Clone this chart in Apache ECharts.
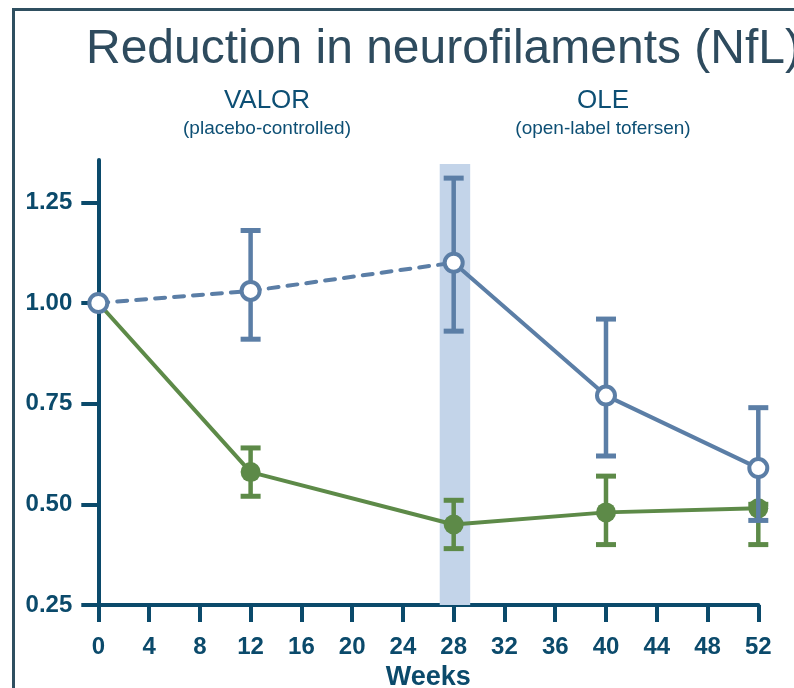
<!DOCTYPE html>
<html>
<head>
<meta charset="utf-8">
<script src="https://cdn.jsdelivr.net/npm/echarts@6/dist/echarts.min.js"></script>
<style>html,body{margin:0;padding:0;background:#fff;}#c{width:794px;height:688px;}</style>
</head>
<body>
<div id="c"></div>
<script>
// ---- data ----
var weeks = [0, 12, 28, 40, 52];
var blueMean = [1.00, 1.03, 1.10, 0.77, 0.59];
var blueLow  = [null, 0.91, 0.93, 0.62, 0.46];
var blueHigh = [null, 1.18, 1.31, 0.96, 0.74];
var greenMean = [1.00, 0.58, 0.45, 0.48, 0.49];
var greenLow  = [null, 0.52, 0.39, 0.40, 0.40];
var greenHigh = [null, 0.64, 0.51, 0.57, 0.50];
var xTicks = [0, 4, 8, 12, 16, 20, 24, 28, 32, 36, 40, 44, 48, 52];
var yTicks = [0.25, 0.50, 0.75, 1.00, 1.25];
var bandWeeks = [26.9, 29.3];
var titleText = 'Reduction in neurofilaments (NfL)';
var phase1 = ['VALOR', '(placebo-controlled)'];
var phase2 = ['OLE', '(open-label tofersen)'];
var xName = 'Weeks';

var AX = '#0b4a6b';
var BLUE = '#5b7ea6';
var GREEN = '#5d8a48';

function pairs(xs, ys, from, to) {
  var out = [];
  for (var i = 0; i < xs.length; i++) {
    if (xs[i] >= from && xs[i] <= to) out.push([xs[i], ys[i]]);
  }
  return out;
}
function errData(xs, lo, hi) {
  var out = [];
  for (var i = 0; i < xs.length; i++) if (lo[i] != null) out.push([xs[i], lo[i], hi[i]]);
  return out;
}
function errRender(color) {
  return function (params, api) {
    var x = api.value(0), lo = api.value(1), hi = api.value(2);
    var a = api.coord([x, lo]), b = api.coord([x, hi]);
    var hw = 10;
    var st = { stroke: color, lineWidth: 4.5 };
    return { type: 'group', children: [
      { type: 'line', shape: { x1: a[0], y1: a[1], x2: b[0], y2: b[1] }, style: st },
      { type: 'line', shape: { x1: a[0] - hw, y1: a[1], x2: a[0] + hw, y2: a[1] }, style: { stroke: color, lineWidth: 5 } },
      { type: 'line', shape: { x1: b[0] - hw, y1: b[1], x2: b[0] + hw, y2: b[1] }, style: { stroke: color, lineWidth: 5 } }
    ] };
  };
}

var chart = echarts.init(document.getElementById('c'), null, { renderer: 'canvas' });
chart.setOption({
  animation: false,
  backgroundColor: '#ffffff',
  title: {
    text: titleText, left: 81, top: 21,
    textStyle: { fontFamily: 'Liberation Sans, Arial', fontSize: 48, fontWeight: 'normal', color: '#2e4b5e' }
  },
  graphic: [
    { type: 'rect', z: -10, shape: { x: 13.5, y: 9.5, width: 900, height: 800 }, style: { fill: 'none', stroke: '#2f4f60', lineWidth: 3 } },
    { type: 'text', x: 267, y: 101, style: { text: phase1[0], textAlign: 'center', textVerticalAlign: 'middle', font: '26px "Liberation Sans", Arial', fill: '#0d4f74' } },
    { type: 'text', x: 267, y: 129, style: { text: phase1[1], textAlign: 'center', textVerticalAlign: 'middle', font: '19px "Liberation Sans", Arial', fill: '#0d4f74' } },
    { type: 'text', x: 603, y: 101, style: { text: phase2[0], textAlign: 'center', textVerticalAlign: 'middle', font: '26px "Liberation Sans", Arial', fill: '#0d4f74' } },
    { type: 'text', x: 603, y: 129, style: { text: phase2[1], textAlign: 'center', textVerticalAlign: 'middle', font: '19px "Liberation Sans", Arial', fill: '#0d4f74' } }
  ],
  grid: { left: 98.3, right: 35.7, top: 160, bottom: 83, containLabel: false, outerBoundsMode: 'none' },
  xAxis: {
    type: 'value', min: 0, max: 52, interval: 4,
    name: xName, nameLocation: 'middle', nameGap: 58,
    nameTextStyle: { fontFamily: 'Liberation Sans, Arial', fontSize: 27, fontWeight: 'bold', color: AX },
    axisLine: { show: true, lineStyle: { color: AX, width: 4 } },
    axisTick: { show: true, length: 17, lineStyle: { color: AX, width: 4 } },
    axisLabel: { margin: 30, fontFamily: 'Liberation Sans, Arial', fontSize: 24, fontWeight: 'bold', color: AX, customValues: xTicks },
    splitLine: { show: false }
  },
  yAxis: {
    type: 'value', min: 0.25, max: 1.355, interval: 0.25,
    axisLine: { show: true, lineStyle: { color: AX, width: 4 } },
    axisTick: { show: true, length: 17, lineStyle: { color: AX, width: 4 }, customValues: yTicks },
    axisLabel: { margin: 26, fontFamily: 'Liberation Sans, Arial', fontSize: 24, fontWeight: 'bold', color: AX, customValues: yTicks,
      formatter: function (v) { return v.toFixed(2); } },
    splitLine: { show: false }
  },
  series: [
    { type: 'line', name: 'band', data: [], silent: true, z: 0,
      markArea: { silent: true, itemStyle: { color: '#c3d4e9', opacity: 1 },
        data: [[{ xAxis: bandWeeks[0], yAxis: 0.25 }, { xAxis: bandWeeks[1], yAxis: 1.345 }]] } },
    { type: 'line', name: 'green', data: pairs(weeks, greenMean, 0, 52), showSymbol: false, z: 2,
      lineStyle: { color: GREEN, width: 4 } },
    { type: 'custom', name: 'greenErr', data: errData(weeks, greenLow, greenHigh), z: 3, renderItem: errRender(GREEN) },
    { type: 'scatter', name: 'greenPts', data: pairs(weeks, greenMean, 1, 52), z: 4, symbol: 'circle', symbolSize: 20,
      itemStyle: { color: GREEN, opacity: 1 } },
    { type: 'line', name: 'blueDash', data: pairs(weeks, blueMean, 0, 28), showSymbol: false, z: 5,
      lineStyle: { color: BLUE, width: 4, type: [10, 9], cap: 'round' } },
    { type: 'line', name: 'blueSolid', data: pairs(weeks, blueMean, 28, 52), showSymbol: false, z: 5,
      lineStyle: { color: BLUE, width: 4 } },
    { type: 'custom', name: 'blueErr', data: errData(weeks, blueLow, blueHigh), z: 6, renderItem: errRender(BLUE) },
    { type: 'scatter', name: 'bluePts', data: pairs(weeks, blueMean, 0, 52), z: 7, symbol: 'circle', symbolSize: 18,
      itemStyle: { color: '#ffffff', borderColor: BLUE, borderWidth: 4, opacity: 1 } }
  ]
});
</script>
</body>
</html>
